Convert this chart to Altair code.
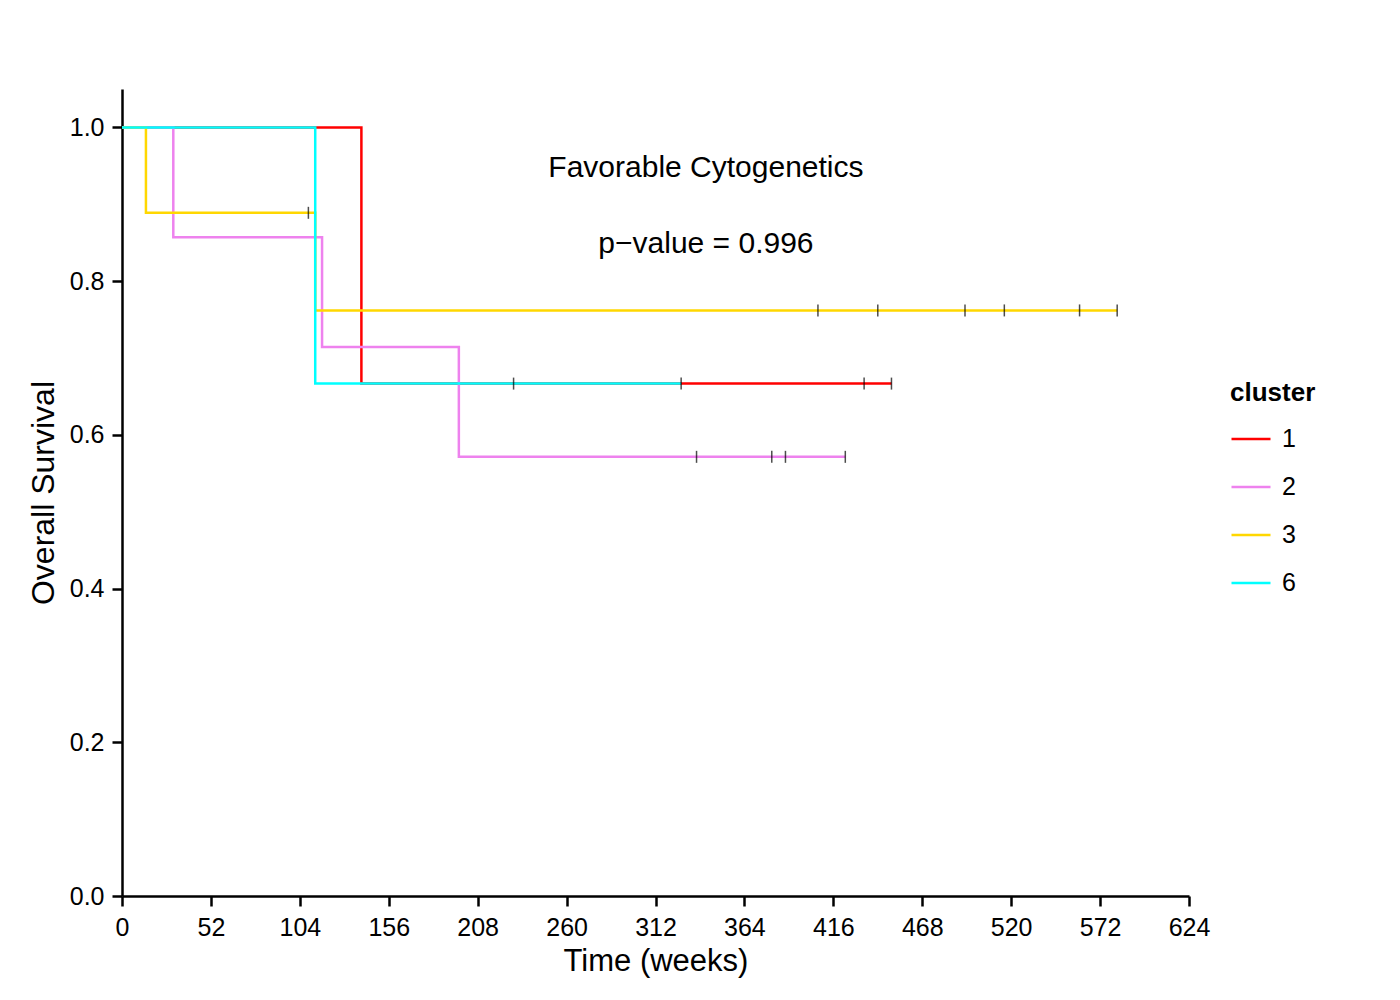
import altair as alt
import pandas as pd

FONT = "Liberation Sans"

clusters = ["1", "2", "3", "6"]
colors = ["#FF0000", "#EE82EE", "#FFD700", "#00FFFF"]

# Kaplan-Meier step curves (time in weeks, survival)
c1_time = [0, 140, 450]
c1_surv = [1.0, 0.6667, 0.6667]
c1_cens = [434, 450]

c2_time = [0, 30, 117, 197, 423]
c2_surv = [1.0, 0.8571, 0.7143, 0.5714, 0.5714]
c2_cens = [336, 380, 388, 423]

c3_time = [0, 14, 113, 582]
c3_surv = [1.0, 0.8889, 0.7619, 0.7619]
c3_cens = [109, 407, 442, 493, 516, 560, 582]

c6_time = [0, 113, 327]
c6_surv = [1.0, 0.6667, 0.6667]
c6_cens = [229, 327]

x_ticks = [0, 52, 104, 156, 208, 260, 312, 364, 416, 468, 520, 572, 624]
y_ticks = [0.0, 0.2, 0.4, 0.6, 0.8, 1.0]

annot_text = ["Favorable Cytogenetics", "p\u2212value = 0.996"]
annot_x = [341.5, 341.5]
annot_y = [0.936, 0.836]

curves = [(c1_time, c1_surv, c1_cens), (c2_time, c2_surv, c2_cens),
          (c3_time, c3_surv, c3_cens), (c6_time, c6_surv, c6_cens)]


def surv_at(times, survs, t):
    s = survs[0]
    for ti, si in zip(times, survs):
        if ti <= t:
            s = si
    return s


line_rows = []
cens_rows = []
for k, (ts, ss, cs) in zip(clusters, curves):
    for i, (t, s) in enumerate(zip(ts, ss)):
        line_rows.append({"cluster": k, "time": t, "surv": s, "order": i})
    for c in cs:
        cens_rows.append({"cluster": k, "time": c, "surv": surv_at(ts, ss, c)})

line_df = pd.DataFrame(line_rows)
cens_df = pd.DataFrame(cens_rows)
annot_df = pd.DataFrame({"text": annot_text, "x": annot_x, "y": annot_y})

xscale = alt.Scale(domain=[0, 624], nice=False, zero=False)
yscale = alt.Scale(domain=[0, 1.05], nice=False)

xaxis = alt.Axis(values=x_ticks, title="Time (weeks)", titleY=74,
                 titleBaseline="alphabetic", titleFontSize=31,
                 labelFlush=False, labelPadding=9)
yaxis = alt.Axis(values=y_ticks, format=".1f", title="Overall Survival",
                 titleX=-69, titleAngle=270, titleBaseline="alphabetic",
                 labelPadding=8)

lines = alt.Chart(line_df).mark_line(interpolate="step-after", strokeWidth=2.5).encode(
    x=alt.X("time:Q", scale=xscale, axis=xaxis),
    y=alt.Y("surv:Q", scale=yscale, axis=yaxis),
    color=alt.Color("cluster:N",
                    scale=alt.Scale(domain=clusters, range=colors),
                    legend=alt.Legend(title="cluster", orient="none",
                                      legendX=1108, legendY=291,
                                      symbolType="stroke", symbolSize=1521,
                                      symbolStrokeWidth=2.5,
                                      labelFontSize=25, titleFontSize=26,
                                      titleFontWeight="bold",
                                      titleFont=FONT, labelFont=FONT,
                                      labelColor="black", titleColor="black",
                                      rowPadding=14, labelOffset=10,
                                      titlePadding=12, padding=0)),
    order="order:Q",
)

ticks = alt.Chart(cens_df).mark_tick(orient="vertical", size=12, thickness=1.5,
                                     color="black").encode(
    x=alt.X("time:Q", scale=xscale),
    y=alt.Y("surv:Q", scale=yscale),
)

texts = alt.Chart(annot_df).mark_text(font=FONT, fontSize=30, color="black",
                                      align="center", baseline="alphabetic").encode(
    x=alt.X("x:Q", scale=xscale),
    y=alt.Y("y:Q", scale=yscale),
    text="text:N",
)

chart = alt.layer(lines, ticks, texts).properties(
    width=1067, height=807,
    autosize=alt.AutoSizeParams(type="none"),
    padding={"left": 122, "top": 89, "right": 211, "bottom": 104},
    background="white",
).configure_view(stroke=None).configure_axis(
    grid=False,
    domainColor="black", domainWidth=2.5,
    tickColor="black", tickWidth=2.5, tickSize=10,
    labelFont=FONT, labelFontSize=25, labelColor="black",
    titleFont=FONT, titleFontSize=32, titleFontWeight="normal", titleColor="black",
)

chart.save("out.html", embed_options={"renderer": "svg", "actions": False})
